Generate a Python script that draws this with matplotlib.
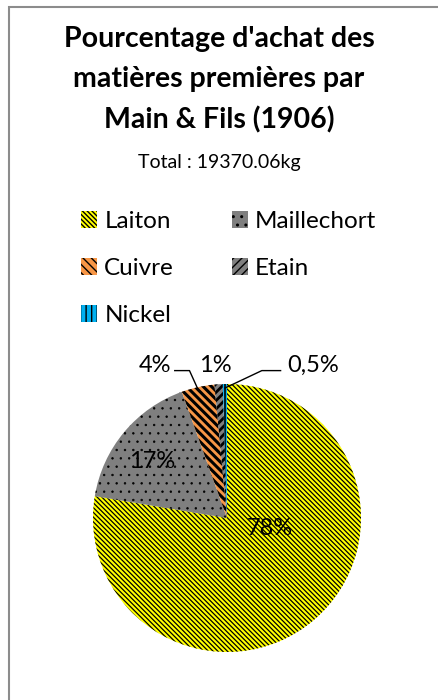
import numpy as np
import matplotlib
matplotlib.use('Agg')
import matplotlib.pyplot as plt
from matplotlib.patches import Rectangle

# Data
materials = ['Laiton', 'Maillechort', 'Cuivre', 'Etain', 'Nickel']
shares = [78, 17, 4, 1, 0.5]  # [%]
share_labels = ['78%', '17%', '4%', '1%', '0,5%']
title_lines = ["Pourcentage d'achat des", "matières premières par", "Main & Fils (1906)"]
subtitle = 'Total : 19370.06kg'

# Styles
colors = ['#FFFF00', '#7F7F7F', '#F79646', '#7F7F7F', '#00B0F0']
hatches = ['\\' * 7, '..', '\\' * 4, '/' * 4, '|||']
hatch_lw = [0.9, 0.5, 2.2, 2.0, 1.2]

plt.rcParams['font.family'] = ['Lato', 'DejaVu Sans']
plt.rcParams['hatch.color'] = 'black'
plt.rcParams['hatch.linewidth'] = 1.0

W, H = 439, 700
fig = plt.figure(figsize=(W / 100, H / 100), dpi=100)

# frame around the chart area (right and bottom edges fall outside the image)
fig.patches.append(Rectangle((8.5 / W, -0.5), 2, 1.5 - 7 / H, transform=fig.transFigure,
                             fill=False, edgecolor='#8C8C8C', linewidth=1.5))

# Title and subtitle
for i, line in enumerate(title_lines):
    fig.text(219 / W, 1 - (47 + 40.5 * i) / H, line, ha='center', va='baseline',
             fontsize=20.5, fontweight='bold')
fig.text(219 / W, 1 - 168 / H, subtitle, ha='center', va='baseline', fontsize=14)

# Pie
cx, cy, r = 227, 518, 134
ax = fig.add_axes([(cx - r) / W, (H - cy - r) / H, 2 * r / W, 2 * r / H])
wedges, _ = ax.pie(shares, colors=colors, startangle=90, counterclock=False,
                   wedgeprops=dict(linewidth=0))
for w, h, lw in zip(wedges, hatches, hatch_lw):
    w.set_hatch(h)
    w.set_edgecolor('black')
    w.set_linewidth(0)
    if hasattr(w, 'set_hatch_linewidth'):
        w.set_hatch_linewidth(lw)
ax.set_xlim(-1, 1)
ax.set_ylim(-1, 1)
ax.set_aspect('equal')
ax.axis('off')

# Data labels
lab_fs = 17
ax.text(0.32, -0.075, share_labels[0], ha='center', va='center', fontsize=lab_fs)
ax.text(-0.56, 0.42, share_labels[1], ha='center', va='center', fontsize=lab_fs)
ax.text(-0.54, 1.14, share_labels[2], ha='center', va='center', fontsize=lab_fs)
ax.text(-0.09, 1.14, share_labels[3], ha='center', va='center', fontsize=lab_fs)
ax.text(0.64, 1.14, share_labels[4], ha='center', va='center', fontsize=lab_fs)

# leader lines for Cuivre and Nickel
def mid_point(w, rad=0.97):
    a = np.deg2rad((w.theta1 + w.theta2) / 2)
    return rad * np.cos(a), rad * np.sin(a)

for w, elbow, end in [(wedges[2], (-0.28, 1.10), (-0.39, 1.10)),
                      (wedges[4], (0.26, 1.10), (0.40, 1.10))]:
    x0, y0 = mid_point(w)
    ax.plot([x0, elbow[0], end[0]], [y0, elbow[1], end[1]], color='black',
            linewidth=1.0, clip_on=False)

# Legend, row-major order like the original
order = [0, 2, 4, 1, 3]
fig.legend([wedges[i] for i in order], [materials[i] for i in order],
           loc='upper left', bbox_to_anchor=(81 / W, 1 - 211 / H), ncol=2,
           frameon=False, fontsize=17.5, borderpad=0, borderaxespad=0,
           handlelength=0.66, handleheight=0.66, handletextpad=0.3,
           labelspacing=1.07, columnspacing=2.37)

fig.savefig('out.png', dpi=100)
